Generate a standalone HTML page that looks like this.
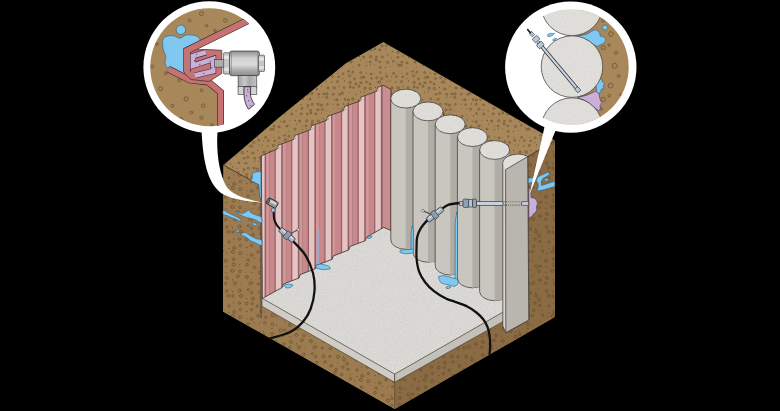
<!DOCTYPE html>
<html><head><meta charset="utf-8"><style>html,body{margin:0;padding:0;background:#000;}svg{display:block}</style></head>
<body><svg width="780" height="411" viewBox="0 0 780 411">
<defs><pattern id="soilpat" patternUnits="userSpaceOnUse" width="64" height="64"><circle cx="1.4" cy="3.4" r="0.55" fill="#5a4222" fill-opacity="0.85"/><circle cx="1.6" cy="9.1" r="0.55" fill="#5a4222" fill-opacity="0.85"/><circle cx="2.7" cy="12.3" r="1.0" fill="none" stroke="#5a4222" stroke-width="0.7" stroke-opacity="0.85"/><circle cx="3.0" cy="17.1" r="0.50" fill="#5a4222" fill-opacity="0.85"/><circle cx="1.7" cy="22.3" r="0.60" fill="#5a4222" fill-opacity="0.85"/><circle cx="4.1" cy="29.8" r="1.0" fill="none" stroke="#5a4222" stroke-width="0.7" stroke-opacity="0.85"/><circle cx="2.7" cy="33.2" r="0.52" fill="#5a4222" fill-opacity="0.85"/><circle cx="1.4" cy="41.2" r="1.2" fill="none" stroke="#5a4222" stroke-width="0.7" stroke-opacity="0.85"/><circle cx="65.4" cy="41.2" r="1.2" fill="none" stroke="#5a4222" stroke-width="0.7" stroke-opacity="0.85"/><circle cx="2.5" cy="45.5" r="1.0" fill="none" stroke="#5a4222" stroke-width="0.7" stroke-opacity="0.85"/><circle cx="66.5" cy="45.5" r="1.0" fill="none" stroke="#5a4222" stroke-width="0.7" stroke-opacity="0.85"/><circle cx="1.5" cy="48.9" r="0.50" fill="#5a4222" fill-opacity="0.85"/><circle cx="3.7" cy="54.9" r="0.63" fill="#5a4222" fill-opacity="0.85"/><circle cx="3.6" cy="-1.7" r="1.1" fill="none" stroke="#5a4222" stroke-width="0.7" stroke-opacity="0.85"/><circle cx="3.6" cy="62.3" r="1.1" fill="none" stroke="#5a4222" stroke-width="0.7" stroke-opacity="0.85"/><circle cx="6.6" cy="2.6" r="0.49" fill="#5a4222" fill-opacity="0.85"/><circle cx="9.6" cy="9.4" r="1.0" fill="none" stroke="#5a4222" stroke-width="0.7" stroke-opacity="0.85"/><circle cx="7.8" cy="12.9" r="0.53" fill="#5a4222" fill-opacity="0.85"/><circle cx="6.2" cy="17.1" r="0.65" fill="#5a4222" fill-opacity="0.85"/><circle cx="8.0" cy="24.0" r="1.1" fill="none" stroke="#5a4222" stroke-width="0.7" stroke-opacity="0.85"/><circle cx="7.0" cy="29.7" r="1.1" fill="none" stroke="#5a4222" stroke-width="0.7" stroke-opacity="0.85"/><circle cx="6.8" cy="33.4" r="1.2" fill="none" stroke="#5a4222" stroke-width="0.7" stroke-opacity="0.85"/><circle cx="7.4" cy="40.4" r="0.9" fill="none" stroke="#5a4222" stroke-width="0.7" stroke-opacity="0.85"/><circle cx="6.4" cy="46.5" r="0.52" fill="#5a4222" fill-opacity="0.85"/><circle cx="8.7" cy="51.3" r="0.64" fill="#5a4222" fill-opacity="0.85"/><circle cx="7.7" cy="57.8" r="0.57" fill="#5a4222" fill-opacity="0.85"/><circle cx="9.4" cy="61.3" r="0.9" fill="none" stroke="#5a4222" stroke-width="0.7" stroke-opacity="0.85"/><circle cx="14.7" cy="1.4" r="1.1" fill="none" stroke="#5a4222" stroke-width="0.7" stroke-opacity="0.85"/><circle cx="14.7" cy="65.4" r="1.1" fill="none" stroke="#5a4222" stroke-width="0.7" stroke-opacity="0.85"/><circle cx="14.4" cy="7.9" r="0.46" fill="#5a4222" fill-opacity="0.85"/><circle cx="12.4" cy="12.5" r="0.9" fill="none" stroke="#5a4222" stroke-width="0.7" stroke-opacity="0.85"/><circle cx="11.7" cy="18.1" r="0.65" fill="#5a4222" fill-opacity="0.85"/><circle cx="14.3" cy="23.9" r="1.2" fill="none" stroke="#5a4222" stroke-width="0.7" stroke-opacity="0.85"/><circle cx="13.4" cy="30.2" r="0.9" fill="none" stroke="#5a4222" stroke-width="0.7" stroke-opacity="0.85"/><circle cx="14.6" cy="35.8" r="0.57" fill="#5a4222" fill-opacity="0.85"/><circle cx="13.1" cy="40.3" r="0.51" fill="#5a4222" fill-opacity="0.85"/><circle cx="13.5" cy="44.5" r="0.45" fill="#5a4222" fill-opacity="0.85"/><circle cx="14.0" cy="52.4" r="1.1" fill="none" stroke="#5a4222" stroke-width="0.7" stroke-opacity="0.85"/><circle cx="13.9" cy="57.3" r="0.9" fill="none" stroke="#5a4222" stroke-width="0.7" stroke-opacity="0.85"/><circle cx="13.0" cy="63.0" r="0.48" fill="#5a4222" fill-opacity="0.85"/><circle cx="17.2" cy="1.2" r="1.0" fill="none" stroke="#5a4222" stroke-width="0.7" stroke-opacity="0.85"/><circle cx="17.2" cy="65.2" r="1.0" fill="none" stroke="#5a4222" stroke-width="0.7" stroke-opacity="0.85"/><circle cx="17.3" cy="9.4" r="0.48" fill="#5a4222" fill-opacity="0.85"/><circle cx="18.8" cy="12.7" r="0.9" fill="none" stroke="#5a4222" stroke-width="0.7" stroke-opacity="0.85"/><circle cx="17.4" cy="17.5" r="1.1" fill="none" stroke="#5a4222" stroke-width="0.7" stroke-opacity="0.85"/><circle cx="18.9" cy="22.3" r="0.62" fill="#5a4222" fill-opacity="0.85"/><circle cx="19.7" cy="30.4" r="1.0" fill="none" stroke="#5a4222" stroke-width="0.7" stroke-opacity="0.85"/><circle cx="17.0" cy="35.7" r="1.1" fill="none" stroke="#5a4222" stroke-width="0.7" stroke-opacity="0.85"/><circle cx="17.7" cy="40.7" r="0.9" fill="none" stroke="#5a4222" stroke-width="0.7" stroke-opacity="0.85"/><circle cx="18.3" cy="44.6" r="0.51" fill="#5a4222" fill-opacity="0.85"/><circle cx="18.7" cy="50.9" r="0.47" fill="#5a4222" fill-opacity="0.85"/><circle cx="19.0" cy="56.0" r="0.64" fill="#5a4222" fill-opacity="0.85"/><circle cx="18.0" cy="-1.9" r="1.0" fill="none" stroke="#5a4222" stroke-width="0.7" stroke-opacity="0.85"/><circle cx="18.0" cy="62.1" r="1.0" fill="none" stroke="#5a4222" stroke-width="0.7" stroke-opacity="0.85"/><circle cx="22.4" cy="3.8" r="0.52" fill="#5a4222" fill-opacity="0.85"/><circle cx="23.3" cy="9.8" r="0.9" fill="none" stroke="#5a4222" stroke-width="0.7" stroke-opacity="0.85"/><circle cx="22.4" cy="14.5" r="0.54" fill="#5a4222" fill-opacity="0.85"/><circle cx="24.5" cy="16.9" r="0.54" fill="#5a4222" fill-opacity="0.85"/><circle cx="24.1" cy="23.6" r="0.9" fill="none" stroke="#5a4222" stroke-width="0.7" stroke-opacity="0.85"/><circle cx="22.3" cy="29.1" r="1.1" fill="none" stroke="#5a4222" stroke-width="0.7" stroke-opacity="0.85"/><circle cx="25.2" cy="35.5" r="0.9" fill="none" stroke="#5a4222" stroke-width="0.7" stroke-opacity="0.85"/><circle cx="23.6" cy="40.0" r="0.64" fill="#5a4222" fill-opacity="0.85"/><circle cx="22.5" cy="45.3" r="1.1" fill="none" stroke="#5a4222" stroke-width="0.7" stroke-opacity="0.85"/><circle cx="25.5" cy="51.7" r="0.60" fill="#5a4222" fill-opacity="0.85"/><circle cx="24.6" cy="57.3" r="0.59" fill="#5a4222" fill-opacity="0.85"/><circle cx="23.0" cy="-1.1" r="1.1" fill="none" stroke="#5a4222" stroke-width="0.7" stroke-opacity="0.85"/><circle cx="23.0" cy="62.9" r="1.1" fill="none" stroke="#5a4222" stroke-width="0.7" stroke-opacity="0.85"/><circle cx="30.5" cy="4.4" r="0.45" fill="#5a4222" fill-opacity="0.85"/><circle cx="28.6" cy="7.3" r="0.9" fill="none" stroke="#5a4222" stroke-width="0.7" stroke-opacity="0.85"/><circle cx="29.5" cy="11.8" r="1.2" fill="none" stroke="#5a4222" stroke-width="0.7" stroke-opacity="0.85"/><circle cx="30.2" cy="18.5" r="1.2" fill="none" stroke="#5a4222" stroke-width="0.7" stroke-opacity="0.85"/><circle cx="30.1" cy="22.9" r="1.1" fill="none" stroke="#5a4222" stroke-width="0.7" stroke-opacity="0.85"/><circle cx="30.0" cy="28.4" r="0.51" fill="#5a4222" fill-opacity="0.85"/><circle cx="28.4" cy="36.0" r="1.1" fill="none" stroke="#5a4222" stroke-width="0.7" stroke-opacity="0.85"/><circle cx="28.2" cy="40.4" r="1.0" fill="none" stroke="#5a4222" stroke-width="0.7" stroke-opacity="0.85"/><circle cx="31.0" cy="45.2" r="1.1" fill="none" stroke="#5a4222" stroke-width="0.7" stroke-opacity="0.85"/><circle cx="28.5" cy="49.5" r="0.9" fill="none" stroke="#5a4222" stroke-width="0.7" stroke-opacity="0.85"/><circle cx="28.2" cy="57.7" r="1.1" fill="none" stroke="#5a4222" stroke-width="0.7" stroke-opacity="0.85"/><circle cx="31.0" cy="-1.9" r="1.0" fill="none" stroke="#5a4222" stroke-width="0.7" stroke-opacity="0.85"/><circle cx="31.0" cy="62.1" r="1.0" fill="none" stroke="#5a4222" stroke-width="0.7" stroke-opacity="0.85"/><circle cx="32.9" cy="3.1" r="0.50" fill="#5a4222" fill-opacity="0.85"/><circle cx="32.8" cy="8.2" r="1.0" fill="none" stroke="#5a4222" stroke-width="0.7" stroke-opacity="0.85"/><circle cx="34.5" cy="14.8" r="0.9" fill="none" stroke="#5a4222" stroke-width="0.7" stroke-opacity="0.85"/><circle cx="35.8" cy="19.9" r="0.9" fill="none" stroke="#5a4222" stroke-width="0.7" stroke-opacity="0.85"/><circle cx="33.5" cy="23.6" r="0.9" fill="none" stroke="#5a4222" stroke-width="0.7" stroke-opacity="0.85"/><circle cx="35.8" cy="30.6" r="0.63" fill="#5a4222" fill-opacity="0.85"/><circle cx="32.9" cy="35.0" r="1.2" fill="none" stroke="#5a4222" stroke-width="0.7" stroke-opacity="0.85"/><circle cx="35.6" cy="41.0" r="0.9" fill="none" stroke="#5a4222" stroke-width="0.7" stroke-opacity="0.85"/><circle cx="35.8" cy="45.7" r="0.54" fill="#5a4222" fill-opacity="0.85"/><circle cx="35.8" cy="50.1" r="1.0" fill="none" stroke="#5a4222" stroke-width="0.7" stroke-opacity="0.85"/><circle cx="33.9" cy="56.5" r="0.46" fill="#5a4222" fill-opacity="0.85"/><circle cx="33.1" cy="61.4" r="0.49" fill="#5a4222" fill-opacity="0.85"/><circle cx="39.1" cy="1.0" r="1.0" fill="none" stroke="#5a4222" stroke-width="0.7" stroke-opacity="0.85"/><circle cx="39.1" cy="65.0" r="1.0" fill="none" stroke="#5a4222" stroke-width="0.7" stroke-opacity="0.85"/><circle cx="40.7" cy="8.6" r="0.9" fill="none" stroke="#5a4222" stroke-width="0.7" stroke-opacity="0.85"/><circle cx="41.6" cy="13.5" r="1.1" fill="none" stroke="#5a4222" stroke-width="0.7" stroke-opacity="0.85"/><circle cx="40.9" cy="18.8" r="1.1" fill="none" stroke="#5a4222" stroke-width="0.7" stroke-opacity="0.85"/><circle cx="38.9" cy="22.3" r="1.0" fill="none" stroke="#5a4222" stroke-width="0.7" stroke-opacity="0.85"/><circle cx="40.5" cy="28.1" r="0.55" fill="#5a4222" fill-opacity="0.85"/><circle cx="38.7" cy="36.0" r="0.63" fill="#5a4222" fill-opacity="0.85"/><circle cx="40.7" cy="38.9" r="0.63" fill="#5a4222" fill-opacity="0.85"/><circle cx="40.1" cy="46.9" r="0.53" fill="#5a4222" fill-opacity="0.85"/><circle cx="41.6" cy="52.3" r="0.45" fill="#5a4222" fill-opacity="0.85"/><circle cx="39.4" cy="56.4" r="0.60" fill="#5a4222" fill-opacity="0.85"/><circle cx="40.5" cy="60.1" r="0.56" fill="#5a4222" fill-opacity="0.85"/><circle cx="46.8" cy="1.6" r="0.56" fill="#5a4222" fill-opacity="0.85"/><circle cx="46.4" cy="8.9" r="0.52" fill="#5a4222" fill-opacity="0.85"/><circle cx="43.8" cy="13.0" r="1.0" fill="none" stroke="#5a4222" stroke-width="0.7" stroke-opacity="0.85"/><circle cx="46.5" cy="18.2" r="0.9" fill="none" stroke="#5a4222" stroke-width="0.7" stroke-opacity="0.85"/><circle cx="45.0" cy="24.3" r="1.1" fill="none" stroke="#5a4222" stroke-width="0.7" stroke-opacity="0.85"/><circle cx="44.3" cy="27.9" r="0.55" fill="#5a4222" fill-opacity="0.85"/><circle cx="46.8" cy="34.7" r="0.9" fill="none" stroke="#5a4222" stroke-width="0.7" stroke-opacity="0.85"/><circle cx="45.1" cy="40.5" r="0.60" fill="#5a4222" fill-opacity="0.85"/><circle cx="45.9" cy="44.4" r="1.0" fill="none" stroke="#5a4222" stroke-width="0.7" stroke-opacity="0.85"/><circle cx="45.3" cy="49.8" r="1.0" fill="none" stroke="#5a4222" stroke-width="0.7" stroke-opacity="0.85"/><circle cx="43.6" cy="57.2" r="1.1" fill="none" stroke="#5a4222" stroke-width="0.7" stroke-opacity="0.85"/><circle cx="46.2" cy="62.2" r="0.53" fill="#5a4222" fill-opacity="0.85"/><circle cx="50.3" cy="0.8" r="0.57" fill="#5a4222" fill-opacity="0.85"/><circle cx="51.0" cy="9.9" r="0.9" fill="none" stroke="#5a4222" stroke-width="0.7" stroke-opacity="0.85"/><circle cx="51.5" cy="14.5" r="0.9" fill="none" stroke="#5a4222" stroke-width="0.7" stroke-opacity="0.85"/><circle cx="50.2" cy="19.9" r="1.0" fill="none" stroke="#5a4222" stroke-width="0.7" stroke-opacity="0.85"/><circle cx="50.3" cy="24.5" r="1.1" fill="none" stroke="#5a4222" stroke-width="0.7" stroke-opacity="0.85"/><circle cx="52.0" cy="30.3" r="0.9" fill="none" stroke="#5a4222" stroke-width="0.7" stroke-opacity="0.85"/><circle cx="51.7" cy="35.8" r="0.49" fill="#5a4222" fill-opacity="0.85"/><circle cx="52.0" cy="41.5" r="1.0" fill="none" stroke="#5a4222" stroke-width="0.7" stroke-opacity="0.85"/><circle cx="51.2" cy="44.0" r="0.50" fill="#5a4222" fill-opacity="0.85"/><circle cx="51.3" cy="49.9" r="0.9" fill="none" stroke="#5a4222" stroke-width="0.7" stroke-opacity="0.85"/><circle cx="50.7" cy="56.8" r="1.1" fill="none" stroke="#5a4222" stroke-width="0.7" stroke-opacity="0.85"/><circle cx="50.1" cy="-2.1" r="0.9" fill="none" stroke="#5a4222" stroke-width="0.7" stroke-opacity="0.85"/><circle cx="50.1" cy="61.9" r="0.9" fill="none" stroke="#5a4222" stroke-width="0.7" stroke-opacity="0.85"/><circle cx="54.7" cy="1.0" r="0.53" fill="#5a4222" fill-opacity="0.85"/><circle cx="54.6" cy="9.4" r="0.45" fill="#5a4222" fill-opacity="0.85"/><circle cx="56.8" cy="13.7" r="1.0" fill="none" stroke="#5a4222" stroke-width="0.7" stroke-opacity="0.85"/><circle cx="57.7" cy="18.2" r="0.58" fill="#5a4222" fill-opacity="0.85"/><circle cx="55.5" cy="23.4" r="0.58" fill="#5a4222" fill-opacity="0.85"/><circle cx="55.8" cy="29.4" r="1.1" fill="none" stroke="#5a4222" stroke-width="0.7" stroke-opacity="0.85"/><circle cx="54.2" cy="35.2" r="0.9" fill="none" stroke="#5a4222" stroke-width="0.7" stroke-opacity="0.85"/><circle cx="56.3" cy="40.3" r="1.0" fill="none" stroke="#5a4222" stroke-width="0.7" stroke-opacity="0.85"/><circle cx="54.7" cy="46.4" r="1.0" fill="none" stroke="#5a4222" stroke-width="0.7" stroke-opacity="0.85"/><circle cx="54.9" cy="49.0" r="0.9" fill="none" stroke="#5a4222" stroke-width="0.7" stroke-opacity="0.85"/><circle cx="56.5" cy="57.3" r="0.9" fill="none" stroke="#5a4222" stroke-width="0.7" stroke-opacity="0.85"/><circle cx="56.1" cy="59.9" r="1.1" fill="none" stroke="#5a4222" stroke-width="0.7" stroke-opacity="0.85"/><circle cx="60.2" cy="3.4" r="0.9" fill="none" stroke="#5a4222" stroke-width="0.7" stroke-opacity="0.85"/><circle cx="60.4" cy="8.4" r="0.9" fill="none" stroke="#5a4222" stroke-width="0.7" stroke-opacity="0.85"/><circle cx="-2.4" cy="14.5" r="1.1" fill="none" stroke="#5a4222" stroke-width="0.7" stroke-opacity="0.85"/><circle cx="61.6" cy="14.5" r="1.1" fill="none" stroke="#5a4222" stroke-width="0.7" stroke-opacity="0.85"/><circle cx="59.5" cy="17.9" r="1.2" fill="none" stroke="#5a4222" stroke-width="0.7" stroke-opacity="0.85"/><circle cx="60.8" cy="25.1" r="1.0" fill="none" stroke="#5a4222" stroke-width="0.7" stroke-opacity="0.85"/><circle cx="-1.2" cy="30.3" r="0.9" fill="none" stroke="#5a4222" stroke-width="0.7" stroke-opacity="0.85"/><circle cx="62.8" cy="30.3" r="0.9" fill="none" stroke="#5a4222" stroke-width="0.7" stroke-opacity="0.85"/><circle cx="62.9" cy="33.1" r="0.61" fill="#5a4222" fill-opacity="0.85"/><circle cx="-1.8" cy="40.1" r="1.0" fill="none" stroke="#5a4222" stroke-width="0.7" stroke-opacity="0.85"/><circle cx="62.2" cy="40.1" r="1.0" fill="none" stroke="#5a4222" stroke-width="0.7" stroke-opacity="0.85"/><circle cx="-2.1" cy="45.9" r="1.1" fill="none" stroke="#5a4222" stroke-width="0.7" stroke-opacity="0.85"/><circle cx="61.9" cy="45.9" r="1.1" fill="none" stroke="#5a4222" stroke-width="0.7" stroke-opacity="0.85"/><circle cx="59.7" cy="49.9" r="1.0" fill="none" stroke="#5a4222" stroke-width="0.7" stroke-opacity="0.85"/><circle cx="-1.6" cy="56.9" r="1.0" fill="none" stroke="#5a4222" stroke-width="0.7" stroke-opacity="0.85"/><circle cx="62.4" cy="56.9" r="1.0" fill="none" stroke="#5a4222" stroke-width="0.7" stroke-opacity="0.85"/><circle cx="59.9" cy="-2.1" r="0.9" fill="none" stroke="#5a4222" stroke-width="0.7" stroke-opacity="0.85"/><circle cx="59.9" cy="61.9" r="0.9" fill="none" stroke="#5a4222" stroke-width="0.7" stroke-opacity="0.85"/></pattern><pattern id="soilside" patternUnits="userSpaceOnUse" width="64" height="64"><circle cx="3.5" cy="3.8" r="0.51" fill="#5a4222" fill-opacity="0.85"/><circle cx="3.9" cy="11.4" r="0.49" fill="#5a4222" fill-opacity="0.85"/><circle cx="3.9" cy="16.5" r="1.5" fill="none" stroke="#5a4222" stroke-width="0.7" stroke-opacity="0.85"/><circle cx="3.3" cy="22.2" r="0.58" fill="#5a4222" fill-opacity="0.85"/><circle cx="2.3" cy="27.9" r="1.1" fill="none" stroke="#5a4222" stroke-width="0.7" stroke-opacity="0.85"/><circle cx="66.3" cy="27.9" r="1.1" fill="none" stroke="#5a4222" stroke-width="0.7" stroke-opacity="0.85"/><circle cx="3.7" cy="36.3" r="1.5" fill="none" stroke="#5a4222" stroke-width="0.7" stroke-opacity="0.85"/><circle cx="5.1" cy="41.8" r="1.2" fill="none" stroke="#5a4222" stroke-width="0.7" stroke-opacity="0.85"/><circle cx="1.2" cy="50.2" r="1.2" fill="none" stroke="#5a4222" stroke-width="0.7" stroke-opacity="0.85"/><circle cx="65.2" cy="50.2" r="1.2" fill="none" stroke="#5a4222" stroke-width="0.7" stroke-opacity="0.85"/><circle cx="5.0" cy="55.5" r="1.2" fill="none" stroke="#5a4222" stroke-width="0.7" stroke-opacity="0.85"/><circle cx="2.0" cy="59.8" r="1.3" fill="none" stroke="#5a4222" stroke-width="0.7" stroke-opacity="0.85"/><circle cx="66.0" cy="59.8" r="1.3" fill="none" stroke="#5a4222" stroke-width="0.7" stroke-opacity="0.85"/><circle cx="8.7" cy="2.7" r="1.1" fill="none" stroke="#5a4222" stroke-width="0.7" stroke-opacity="0.85"/><circle cx="7.5" cy="11.3" r="0.56" fill="#5a4222" fill-opacity="0.85"/><circle cx="7.9" cy="14.4" r="1.2" fill="none" stroke="#5a4222" stroke-width="0.7" stroke-opacity="0.85"/><circle cx="7.6" cy="21.4" r="1.2" fill="none" stroke="#5a4222" stroke-width="0.7" stroke-opacity="0.85"/><circle cx="10.3" cy="28.6" r="1.3" fill="none" stroke="#5a4222" stroke-width="0.7" stroke-opacity="0.85"/><circle cx="9.8" cy="36.5" r="1.1" fill="none" stroke="#5a4222" stroke-width="0.7" stroke-opacity="0.85"/><circle cx="9.5" cy="41.1" r="0.47" fill="#5a4222" fill-opacity="0.85"/><circle cx="11.3" cy="45.8" r="1.3" fill="none" stroke="#5a4222" stroke-width="0.7" stroke-opacity="0.85"/><circle cx="8.8" cy="56.1" r="0.48" fill="#5a4222" fill-opacity="0.85"/><circle cx="9.6" cy="61.3" r="1.1" fill="none" stroke="#5a4222" stroke-width="0.7" stroke-opacity="0.85"/><circle cx="16.5" cy="4.2" r="1.3" fill="none" stroke="#5a4222" stroke-width="0.7" stroke-opacity="0.85"/><circle cx="16.0" cy="8.5" r="0.64" fill="#5a4222" fill-opacity="0.85"/><circle cx="15.9" cy="13.9" r="1.5" fill="none" stroke="#5a4222" stroke-width="0.7" stroke-opacity="0.85"/><circle cx="15.2" cy="20.6" r="1.4" fill="none" stroke="#5a4222" stroke-width="0.7" stroke-opacity="0.85"/><circle cx="16.5" cy="27.8" r="1.4" fill="none" stroke="#5a4222" stroke-width="0.7" stroke-opacity="0.85"/><circle cx="18.1" cy="36.7" r="1.5" fill="none" stroke="#5a4222" stroke-width="0.7" stroke-opacity="0.85"/><circle cx="17.9" cy="43.3" r="0.57" fill="#5a4222" fill-opacity="0.85"/><circle cx="16.1" cy="49.6" r="1.4" fill="none" stroke="#5a4222" stroke-width="0.7" stroke-opacity="0.85"/><circle cx="14.8" cy="52.6" r="1.4" fill="none" stroke="#5a4222" stroke-width="0.7" stroke-opacity="0.85"/><circle cx="16.3" cy="59.4" r="1.5" fill="none" stroke="#5a4222" stroke-width="0.7" stroke-opacity="0.85"/><circle cx="20.5" cy="5.1" r="0.56" fill="#5a4222" fill-opacity="0.85"/><circle cx="24.6" cy="10.4" r="1.5" fill="none" stroke="#5a4222" stroke-width="0.7" stroke-opacity="0.85"/><circle cx="22.0" cy="17.9" r="0.48" fill="#5a4222" fill-opacity="0.85"/><circle cx="20.3" cy="20.3" r="0.61" fill="#5a4222" fill-opacity="0.85"/><circle cx="21.2" cy="27.1" r="1.5" fill="none" stroke="#5a4222" stroke-width="0.7" stroke-opacity="0.85"/><circle cx="23.5" cy="36.8" r="0.60" fill="#5a4222" fill-opacity="0.85"/><circle cx="23.9" cy="39.4" r="1.5" fill="none" stroke="#5a4222" stroke-width="0.7" stroke-opacity="0.85"/><circle cx="22.9" cy="47.2" r="1.2" fill="none" stroke="#5a4222" stroke-width="0.7" stroke-opacity="0.85"/><circle cx="21.7" cy="54.4" r="1.2" fill="none" stroke="#5a4222" stroke-width="0.7" stroke-opacity="0.85"/><circle cx="20.5" cy="59.5" r="1.1" fill="none" stroke="#5a4222" stroke-width="0.7" stroke-opacity="0.85"/><circle cx="28.4" cy="1.5" r="0.56" fill="#5a4222" fill-opacity="0.85"/><circle cx="28.6" cy="10.2" r="1.1" fill="none" stroke="#5a4222" stroke-width="0.7" stroke-opacity="0.85"/><circle cx="26.9" cy="15.3" r="1.2" fill="none" stroke="#5a4222" stroke-width="0.7" stroke-opacity="0.85"/><circle cx="27.9" cy="23.9" r="1.3" fill="none" stroke="#5a4222" stroke-width="0.7" stroke-opacity="0.85"/><circle cx="28.3" cy="27.8" r="0.49" fill="#5a4222" fill-opacity="0.85"/><circle cx="26.7" cy="33.7" r="0.52" fill="#5a4222" fill-opacity="0.85"/><circle cx="27.1" cy="43.7" r="1.5" fill="none" stroke="#5a4222" stroke-width="0.7" stroke-opacity="0.85"/><circle cx="28.0" cy="49.4" r="1.2" fill="none" stroke="#5a4222" stroke-width="0.7" stroke-opacity="0.85"/><circle cx="30.1" cy="54.5" r="0.53" fill="#5a4222" fill-opacity="0.85"/><circle cx="30.5" cy="58.9" r="1.2" fill="none" stroke="#5a4222" stroke-width="0.7" stroke-opacity="0.85"/><circle cx="33.9" cy="4.9" r="1.5" fill="none" stroke="#5a4222" stroke-width="0.7" stroke-opacity="0.85"/><circle cx="34.2" cy="10.6" r="0.58" fill="#5a4222" fill-opacity="0.85"/><circle cx="34.0" cy="16.8" r="0.61" fill="#5a4222" fill-opacity="0.85"/><circle cx="34.9" cy="21.9" r="1.4" fill="none" stroke="#5a4222" stroke-width="0.7" stroke-opacity="0.85"/><circle cx="33.7" cy="27.5" r="1.2" fill="none" stroke="#5a4222" stroke-width="0.7" stroke-opacity="0.85"/><circle cx="34.7" cy="35.1" r="1.3" fill="none" stroke="#5a4222" stroke-width="0.7" stroke-opacity="0.85"/><circle cx="36.4" cy="39.8" r="1.3" fill="none" stroke="#5a4222" stroke-width="0.7" stroke-opacity="0.85"/><circle cx="37.0" cy="49.9" r="1.1" fill="none" stroke="#5a4222" stroke-width="0.7" stroke-opacity="0.85"/><circle cx="36.9" cy="56.6" r="0.56" fill="#5a4222" fill-opacity="0.85"/><circle cx="34.7" cy="61.2" r="0.65" fill="#5a4222" fill-opacity="0.85"/><circle cx="41.6" cy="3.2" r="1.3" fill="none" stroke="#5a4222" stroke-width="0.7" stroke-opacity="0.85"/><circle cx="41.8" cy="8.6" r="1.5" fill="none" stroke="#5a4222" stroke-width="0.7" stroke-opacity="0.85"/><circle cx="40.4" cy="14.9" r="1.5" fill="none" stroke="#5a4222" stroke-width="0.7" stroke-opacity="0.85"/><circle cx="40.7" cy="23.9" r="0.63" fill="#5a4222" fill-opacity="0.85"/><circle cx="43.0" cy="27.4" r="1.5" fill="none" stroke="#5a4222" stroke-width="0.7" stroke-opacity="0.85"/><circle cx="40.5" cy="35.7" r="0.64" fill="#5a4222" fill-opacity="0.85"/><circle cx="40.9" cy="39.9" r="1.2" fill="none" stroke="#5a4222" stroke-width="0.7" stroke-opacity="0.85"/><circle cx="41.8" cy="47.0" r="0.58" fill="#5a4222" fill-opacity="0.85"/><circle cx="42.1" cy="55.9" r="1.4" fill="none" stroke="#5a4222" stroke-width="0.7" stroke-opacity="0.85"/><circle cx="40.9" cy="59.9" r="1.5" fill="none" stroke="#5a4222" stroke-width="0.7" stroke-opacity="0.85"/><circle cx="49.8" cy="1.1" r="0.46" fill="#5a4222" fill-opacity="0.85"/><circle cx="47.6" cy="8.8" r="0.54" fill="#5a4222" fill-opacity="0.85"/><circle cx="48.0" cy="15.4" r="1.2" fill="none" stroke="#5a4222" stroke-width="0.7" stroke-opacity="0.85"/><circle cx="46.0" cy="20.2" r="1.4" fill="none" stroke="#5a4222" stroke-width="0.7" stroke-opacity="0.85"/><circle cx="48.8" cy="27.7" r="0.47" fill="#5a4222" fill-opacity="0.85"/><circle cx="47.7" cy="34.5" r="1.5" fill="none" stroke="#5a4222" stroke-width="0.7" stroke-opacity="0.85"/><circle cx="49.0" cy="39.9" r="1.5" fill="none" stroke="#5a4222" stroke-width="0.7" stroke-opacity="0.85"/><circle cx="47.4" cy="47.1" r="1.2" fill="none" stroke="#5a4222" stroke-width="0.7" stroke-opacity="0.85"/><circle cx="48.4" cy="53.6" r="1.1" fill="none" stroke="#5a4222" stroke-width="0.7" stroke-opacity="0.85"/><circle cx="48.2" cy="61.2" r="1.5" fill="none" stroke="#5a4222" stroke-width="0.7" stroke-opacity="0.85"/><circle cx="56.3" cy="3.9" r="1.2" fill="none" stroke="#5a4222" stroke-width="0.7" stroke-opacity="0.85"/><circle cx="55.0" cy="8.7" r="1.3" fill="none" stroke="#5a4222" stroke-width="0.7" stroke-opacity="0.85"/><circle cx="53.1" cy="16.6" r="0.45" fill="#5a4222" fill-opacity="0.85"/><circle cx="55.0" cy="21.0" r="1.4" fill="none" stroke="#5a4222" stroke-width="0.7" stroke-opacity="0.85"/><circle cx="56.5" cy="28.0" r="0.52" fill="#5a4222" fill-opacity="0.85"/><circle cx="56.4" cy="33.7" r="1.1" fill="none" stroke="#5a4222" stroke-width="0.7" stroke-opacity="0.85"/><circle cx="54.7" cy="42.7" r="0.60" fill="#5a4222" fill-opacity="0.85"/><circle cx="54.6" cy="47.6" r="1.4" fill="none" stroke="#5a4222" stroke-width="0.7" stroke-opacity="0.85"/><circle cx="54.9" cy="55.4" r="0.64" fill="#5a4222" fill-opacity="0.85"/><circle cx="54.9" cy="62.5" r="0.53" fill="#5a4222" fill-opacity="0.85"/><circle cx="62.2" cy="2.6" r="0.63" fill="#5a4222" fill-opacity="0.85"/><circle cx="-1.4" cy="11.4" r="1.3" fill="none" stroke="#5a4222" stroke-width="0.7" stroke-opacity="0.85"/><circle cx="62.6" cy="11.4" r="1.3" fill="none" stroke="#5a4222" stroke-width="0.7" stroke-opacity="0.85"/><circle cx="59.9" cy="16.6" r="0.52" fill="#5a4222" fill-opacity="0.85"/><circle cx="59.5" cy="23.6" r="0.49" fill="#5a4222" fill-opacity="0.85"/><circle cx="59.2" cy="27.1" r="1.5" fill="none" stroke="#5a4222" stroke-width="0.7" stroke-opacity="0.85"/><circle cx="59.7" cy="36.5" r="1.2" fill="none" stroke="#5a4222" stroke-width="0.7" stroke-opacity="0.85"/><circle cx="61.0" cy="42.8" r="1.4" fill="none" stroke="#5a4222" stroke-width="0.7" stroke-opacity="0.85"/><circle cx="60.2" cy="47.5" r="1.1" fill="none" stroke="#5a4222" stroke-width="0.7" stroke-opacity="0.85"/><circle cx="59.5" cy="53.7" r="1.2" fill="none" stroke="#5a4222" stroke-width="0.7" stroke-opacity="0.85"/><circle cx="59.7" cy="-1.0" r="1.3" fill="none" stroke="#5a4222" stroke-width="0.7" stroke-opacity="0.85"/><circle cx="59.7" cy="63.0" r="1.3" fill="none" stroke="#5a4222" stroke-width="0.7" stroke-opacity="0.85"/></pattern><filter id="grain" x="0" y="0" width="100%" height="100%"><feTurbulence type="fractalNoise" baseFrequency="0.75" numOctaves="2" seed="4" result="n"/><feColorMatrix in="n" type="matrix" values="0 0 0 0 0  0 0 0 0 0  0 0 0 0 0  1.2 0 0 0 -0.45"/><feComposite in2="SourceGraphic" operator="in"/></filter><clipPath id="cBlock"><polygon points="383.3,42.0 554.8,140.6 554.8,317.0 394.7,409.0 223.0,311.5 223.5,165.0 279.0,117.5 345.6,63.6"/></clipPath><clipPath id="cL"><circle cx="209.3" cy="67.2" r="59"/></clipPath><clipPath id="cR"><circle cx="570.8" cy="67.1" r="57.9"/></clipPath><clipPath id="cTop"><polygon points="383.3,42.0 554.8,140.6 527.7,156.6 261.0,186.0 223.5,165.0 279.0,117.5 345.6,63.6"/></clipPath><clipPath id="cWall"><polygon points="261.2,155.9 277.1,149.1 278.3,144.8 280.1,144.5 292.8,139.8 293.7,139.4 294.9,135.1 296.7,134.8 309.4,130.1 310.3,129.8 311.5,125.5 313.3,125.2 326.0,120.5 326.9,120.2 328.1,115.9 329.9,115.6 342.6,110.9 343.5,110.5 344.7,106.2 346.5,105.9 359.2,101.2 360.1,100.9 361.3,96.6 363.1,96.3 375.8,91.6 376.7,91.3 377.9,87.0 379.7,86.7 383.0,85.1 391.0,89.4 391.0,230.5 383.6,227.4 366.4,237.3 365.4,240.6 349.8,246.6 348.8,249.9 333.2,256.0 332.2,259.3 316.6,265.3 315.6,268.6 300.0,274.7 299.0,278.0 283.4,284.0 282.4,287.3 262.4,298.5"/></clipPath><linearGradient id="gBody" x1="0" y1="0" x2="0" y2="1"><stop offset="0" stop-color="#8e8e8e"/><stop offset="0.3" stop-color="#d2d2d2"/><stop offset="0.55" stop-color="#dadada"/><stop offset="0.8" stop-color="#a9a9a9"/><stop offset="1" stop-color="#8a8a8a"/></linearGradient><linearGradient id="gLow" x1="0" y1="0" x2="1" y2="0"><stop offset="0" stop-color="#a0a0a0"/><stop offset="0.35" stop-color="#c8c8c8"/><stop offset="0.6" stop-color="#a8a8a8"/><stop offset="1" stop-color="#c4c4c4"/></linearGradient></defs>
<rect width="780" height="411" fill="#000"/>
<polygon points="383.3,42.0 554.8,140.6 554.8,317.0 394.7,409.0 223.0,311.5 223.5,165.0 279.0,117.5 345.6,63.6" fill="#a8885b"/><polygon points="223.5,165.0 261.0,186.0 261.0,306.3 394.7,382.3 394.7,409.0 223.0,311.5" fill="#9b7b4f"/><polygon points="554.8,140.6 527.7,156.6 528.8,320.0 505.8,332.8 505.8,320.0 394.7,382.3 394.7,409.0 554.8,317.0" fill="#8a6b43"/><polyline points="223.5,165.0 261.0,186.0" fill="none" stroke="#3a302c" stroke-width="0.8"/><polyline points="554.8,140.6 527.7,156.6" fill="none" stroke="#3a302c" stroke-width="0.8"/><polyline points="394.7,382.3 394.7,409.0" fill="none" stroke="#4a3a28" stroke-width="0.6"/><rect x="215" y="35" width="345" height="380" fill="url(#soilpat)" clip-path="url(#cTop)"/><polygon points="223.5,165.0 261.0,186.0 261.0,306.3 394.7,382.3 394.7,409.0 223.0,311.5" fill="url(#soilside)"/><polygon points="554.8,140.6 527.7,156.6 528.8,320.0 505.8,332.8 505.8,320.0 394.7,382.3 394.7,409.0 554.8,317.0" fill="url(#soilside)"/><polygon points="262.0,298.2 262.0,290.0 390.0,222.0 502.4,290.0 504.0,311.5 394.7,374.1" fill="#dcdbd7"/><polygon points="262.0,298.2 262.0,290.0 390.0,222.0 502.4,290.0 504.0,311.5 394.7,374.1" fill="#000" filter="url(#grain)" opacity="0.10"/><polygon points="262.0,298.2 394.7,374.1 394.7,382.3 262.0,306.3" fill="#cfcdc6" stroke="#3a302c" stroke-width="0.6"/><polygon points="394.7,374.1 504.0,311.5 505.8,320.0 394.7,382.3" fill="#c3c1ba" stroke="#3a302c" stroke-width="0.6"/><g clip-path="url(#cWall)"><rect x="261.6" y="70" width="128.79999999999995" height="240" fill="#cd8e91"/><rect x="242.70" y="70" width="5.4" height="240" fill="#e7c4c4"/><rect x="248.10" y="70" width="1.6" height="240" fill="#8e6468"/><rect x="249.70" y="70" width="3.0" height="240" fill="#d3979a"/><rect x="252.70" y="70" width="0.6" height="240" fill="#a07478"/><rect x="253.30" y="70" width="4.6" height="240" fill="#c8888c"/><rect x="257.90" y="70" width="1.25" height="240" fill="#8e6468"/><rect x="259.30" y="70" width="5.4" height="240" fill="#e7c4c4"/><rect x="264.70" y="70" width="1.6" height="240" fill="#8e6468"/><rect x="266.30" y="70" width="3.0" height="240" fill="#d3979a"/><rect x="269.30" y="70" width="0.6" height="240" fill="#a07478"/><rect x="269.90" y="70" width="4.6" height="240" fill="#c8888c"/><rect x="274.50" y="70" width="1.25" height="240" fill="#8e6468"/><rect x="275.90" y="70" width="5.4" height="240" fill="#e7c4c4"/><rect x="281.30" y="70" width="1.6" height="240" fill="#8e6468"/><rect x="282.90" y="70" width="3.0" height="240" fill="#d3979a"/><rect x="285.90" y="70" width="0.6" height="240" fill="#a07478"/><rect x="286.50" y="70" width="4.6" height="240" fill="#c8888c"/><rect x="291.10" y="70" width="1.25" height="240" fill="#8e6468"/><rect x="292.50" y="70" width="5.4" height="240" fill="#e7c4c4"/><rect x="297.90" y="70" width="1.6" height="240" fill="#8e6468"/><rect x="299.50" y="70" width="3.0" height="240" fill="#d3979a"/><rect x="302.50" y="70" width="0.6" height="240" fill="#a07478"/><rect x="303.10" y="70" width="4.6" height="240" fill="#c8888c"/><rect x="307.70" y="70" width="1.25" height="240" fill="#8e6468"/><rect x="309.10" y="70" width="5.4" height="240" fill="#e7c4c4"/><rect x="314.50" y="70" width="1.6" height="240" fill="#8e6468"/><rect x="316.10" y="70" width="3.0" height="240" fill="#d3979a"/><rect x="319.10" y="70" width="0.6" height="240" fill="#a07478"/><rect x="319.70" y="70" width="4.6" height="240" fill="#c8888c"/><rect x="324.30" y="70" width="1.25" height="240" fill="#8e6468"/><rect x="325.70" y="70" width="5.4" height="240" fill="#e7c4c4"/><rect x="331.10" y="70" width="1.6" height="240" fill="#8e6468"/><rect x="332.70" y="70" width="3.0" height="240" fill="#d3979a"/><rect x="335.70" y="70" width="0.6" height="240" fill="#a07478"/><rect x="336.30" y="70" width="4.6" height="240" fill="#c8888c"/><rect x="340.90" y="70" width="1.25" height="240" fill="#8e6468"/><rect x="342.30" y="70" width="5.4" height="240" fill="#e7c4c4"/><rect x="347.70" y="70" width="1.6" height="240" fill="#8e6468"/><rect x="349.30" y="70" width="3.0" height="240" fill="#d3979a"/><rect x="352.30" y="70" width="0.6" height="240" fill="#a07478"/><rect x="352.90" y="70" width="4.6" height="240" fill="#c8888c"/><rect x="357.50" y="70" width="1.25" height="240" fill="#8e6468"/><rect x="358.90" y="70" width="5.4" height="240" fill="#e7c4c4"/><rect x="364.30" y="70" width="1.6" height="240" fill="#8e6468"/><rect x="365.90" y="70" width="3.0" height="240" fill="#d3979a"/><rect x="368.90" y="70" width="0.6" height="240" fill="#a07478"/><rect x="369.50" y="70" width="4.6" height="240" fill="#c8888c"/><rect x="374.10" y="70" width="1.25" height="240" fill="#8e6468"/><rect x="375.50" y="70" width="5.4" height="240" fill="#e7c4c4"/><rect x="380.90" y="70" width="1.6" height="240" fill="#8e6468"/><rect x="382.50" y="70" width="3.0" height="240" fill="#d3979a"/><rect x="385.50" y="70" width="0.6" height="240" fill="#a07478"/><rect x="386.10" y="70" width="4.6" height="240" fill="#c8888c"/><rect x="390.70" y="70" width="1.25" height="240" fill="#8e6468"/><rect x="392.10" y="70" width="5.4" height="240" fill="#e7c4c4"/><rect x="397.50" y="70" width="1.6" height="240" fill="#8e6468"/><rect x="399.10" y="70" width="3.0" height="240" fill="#d3979a"/><rect x="402.10" y="70" width="0.6" height="240" fill="#a07478"/><rect x="402.70" y="70" width="4.6" height="240" fill="#c8888c"/><rect x="407.30" y="70" width="1.25" height="240" fill="#8e6468"/><rect x="408.70" y="70" width="5.4" height="240" fill="#e7c4c4"/><rect x="414.10" y="70" width="1.6" height="240" fill="#8e6468"/><rect x="415.70" y="70" width="3.0" height="240" fill="#d3979a"/><rect x="418.70" y="70" width="0.6" height="240" fill="#a07478"/><rect x="419.30" y="70" width="4.6" height="240" fill="#c8888c"/><rect x="423.90" y="70" width="1.25" height="240" fill="#8e6468"/><rect x="382.4" y="70" width="8.4" height="240" fill="#c98c90"/><rect x="381.6" y="70" width="0.9" height="240" fill="#7e5c5e"/></g><polygon points="261.2,155.9 277.1,149.1 278.3,144.8 280.1,144.5 292.8,139.8 293.7,139.4 294.9,135.1 296.7,134.8 309.4,130.1 310.3,129.8 311.5,125.5 313.3,125.2 326.0,120.5 326.9,120.2 328.1,115.9 329.9,115.6 342.6,110.9 343.5,110.5 344.7,106.2 346.5,105.9 359.2,101.2 360.1,100.9 361.3,96.6 363.1,96.3 375.8,91.6 376.7,91.3 377.9,87.0 379.7,86.7 383.0,85.1 391.0,89.4 391.0,230.5 383.6,227.4 366.4,237.3 365.4,240.6 349.8,246.6 348.8,249.9 333.2,256.0 332.2,259.3 316.6,265.3 315.6,268.6 300.0,274.7 299.0,278.0 283.4,284.0 282.4,287.3 262.4,298.5" fill="none" stroke="#3a302c" stroke-width="0.8" stroke-linejoin="round"/><circle cx="278.1" cy="147.6" r="0.9" fill="#eee" stroke="#444" stroke-width="0.4"/><circle cx="294.7" cy="137.9" r="0.9" fill="#eee" stroke="#444" stroke-width="0.4"/><circle cx="311.3" cy="128.3" r="0.9" fill="#eee" stroke="#444" stroke-width="0.4"/><circle cx="327.9" cy="118.7" r="0.9" fill="#eee" stroke="#444" stroke-width="0.4"/><circle cx="344.5" cy="109.0" r="0.9" fill="#eee" stroke="#444" stroke-width="0.4"/><circle cx="361.1" cy="99.4" r="0.9" fill="#eee" stroke="#444" stroke-width="0.4"/><circle cx="377.7" cy="89.8" r="0.9" fill="#eee" stroke="#444" stroke-width="0.4"/><line x1="261" y1="156" x2="261" y2="318" stroke="#5e4c46" stroke-width="1.3"/><path d="M390.8,98.6 L390.8,239.9 A15,9.4 0 0 0 420.8,239.9 L420.8,98.6 Z" fill="#c9c6bf" stroke="#3a302c" stroke-width="0.7"/><path d="M405.8,98.6 L405.8,249.3 A15,9.4 0 0 0 420.8,239.9 L420.8,98.6 Z" fill="#b0ada6"/><ellipse cx="405.8" cy="98.6" rx="15" ry="9.4" fill="#e1dfdc" stroke="#3a302c" stroke-width="0.7"/><ellipse cx="405.8" cy="98.6" rx="14.5" ry="8.9" fill="#000" filter="url(#grain)" opacity="0.08"/><path d="M413.0,111.4 L413.0,252.8 A15,9.4 0 0 0 443.0,252.8 L443.0,111.4 Z" fill="#c9c6bf" stroke="#3a302c" stroke-width="0.7"/><path d="M428.0,111.4 L428.0,262.1 A15,9.4 0 0 0 443.0,252.8 L443.0,111.4 Z" fill="#b0ada6"/><ellipse cx="428.0" cy="111.4" rx="15" ry="9.4" fill="#e1dfdc" stroke="#3a302c" stroke-width="0.7"/><ellipse cx="428.0" cy="111.4" rx="14.5" ry="8.9" fill="#000" filter="url(#grain)" opacity="0.08"/><path d="M435.2,124.3 L435.2,265.6 A15,9.4 0 0 0 465.2,265.6 L465.2,124.3 Z" fill="#c9c6bf" stroke="#3a302c" stroke-width="0.7"/><path d="M450.2,124.3 L450.2,275.0 A15,9.4 0 0 0 465.2,265.6 L465.2,124.3 Z" fill="#b0ada6"/><ellipse cx="450.2" cy="124.3" rx="15" ry="9.4" fill="#e1dfdc" stroke="#3a302c" stroke-width="0.7"/><ellipse cx="450.2" cy="124.3" rx="14.5" ry="8.9" fill="#000" filter="url(#grain)" opacity="0.08"/><path d="M457.4,137.1 L457.4,278.4 A15,9.4 0 0 0 487.4,278.4 L487.4,137.1 Z" fill="#c9c6bf" stroke="#3a302c" stroke-width="0.7"/><path d="M472.4,137.1 L472.4,287.8 A15,9.4 0 0 0 487.4,278.4 L487.4,137.1 Z" fill="#b0ada6"/><ellipse cx="472.4" cy="137.1" rx="15" ry="9.4" fill="#e1dfdc" stroke="#3a302c" stroke-width="0.7"/><ellipse cx="472.4" cy="137.1" rx="14.5" ry="8.9" fill="#000" filter="url(#grain)" opacity="0.08"/><path d="M479.6,150.0 L479.6,291.3 A15,9.4 0 0 0 509.6,291.3 L509.6,150.0 Z" fill="#c9c6bf" stroke="#3a302c" stroke-width="0.7"/><path d="M494.6,150.0 L494.6,300.7 A15,9.4 0 0 0 509.6,291.3 L509.6,150.0 Z" fill="#b0ada6"/><ellipse cx="494.6" cy="150.0" rx="15" ry="9.4" fill="#e1dfdc" stroke="#3a302c" stroke-width="0.7"/><ellipse cx="494.6" cy="150.0" rx="14.5" ry="8.9" fill="#000" filter="url(#grain)" opacity="0.08"/><path d="M502.8,163.8 A15,9.4 0 0 1 527.7,156.6 L528.8,320 L505.8,332.8 L502.8,326 Z" fill="#d7d4cd" stroke="#3a302c" stroke-width="0.7"/><path d="M503.3,163.8 A14.5,8.9 0 0 1 527.2,157 L505.6,169.6 Q503.8,167 503.3,163.8 Z" fill="#e1dfdc"/><polygon points="505.6,169.6 527.7,156.6 528.8,320.0 505.8,332.8" fill="#b9b6af" stroke="#3a302c" stroke-width="0.7"/><path d="M252.4,173 Q256,171.5 261,171.5 L261,199 L259.6,197 L258.9,184.8 L250.8,180.5 Q252.5,178.5 252.3,176.5 Z" fill="#80c8ef" stroke="#2c5e7e" stroke-width="0.6"/><path d="M223.4,210.3 C224.2,210.0 226.7,212.0 228.3,212.8 C229.9,213.6 231.3,214.3 233.2,215.2 C235.0,216.1 237.9,217.2 239.2,218.2 C240.6,219.3 241.8,221.3 241.4,221.5 C241.0,221.8 238.6,220.4 236.8,219.7 C235.0,219.0 232.5,218.0 230.7,217.3 C229.0,216.6 227.7,215.9 226.5,215.5 C225.3,215.0 223.9,215.7 223.4,214.8 C222.9,214.0 222.6,210.7 223.4,210.3Z" fill="#80c8ef" stroke="#2c5e7e" stroke-width="0.6"/><path d="M235.6,211.6 C236.8,211.7 240.4,213.5 242.3,213.4 C244.2,213.3 246.0,211.5 247.2,210.9 C248.3,210.4 248.7,209.9 249.2,210.1 C249.8,210.3 249.6,211.5 250.4,212.2 C251.3,212.9 253.3,213.8 254.5,214.4 C255.6,214.9 256.3,215.1 257.5,215.6 C258.7,216.1 260.7,216.1 261.4,217.3 C262.0,218.5 262.4,222.3 261.4,222.7 C260.3,223.2 257.1,220.5 255.1,219.7 C253.0,218.9 250.8,218.4 249.0,217.9 C247.2,217.4 245.9,217.4 244.1,216.7 C242.3,216.0 239.5,214.3 238.0,213.6 C236.6,212.9 235.8,212.8 235.4,212.4 C234.9,212.1 234.4,211.4 235.6,211.6Z" fill="#80c8ef" stroke="#2c5e7e" stroke-width="0.6"/><ellipse cx="254.7" cy="224.3" rx="2.5" ry="1.4" transform="rotate(15 254.7 224.3)" fill="#80c8ef" stroke="#2c5e7e" stroke-width="0.6"/><ellipse cx="237.8" cy="231.1" rx="1.8" ry="1.2" fill="#80c8ef" stroke="#2c5e7e" stroke-width="0.6"/><path d="M241.7,233.5 C242.3,233.1 243.9,232.2 245.3,232.6 C246.8,233.0 248.4,234.6 250.2,235.6 C252.0,236.7 254.4,238.0 256.3,238.7 C258.1,239.4 260.5,238.8 261.4,239.9 C262.2,241.0 262.4,244.8 261.4,245.3 C260.3,245.7 256.9,243.6 255.1,242.8 C253.2,242.0 251.8,241.4 250.2,240.4 C248.6,239.4 246.8,237.7 245.3,236.7 C243.9,235.8 242.0,235.5 241.4,234.9 C240.8,234.4 241.0,233.8 241.7,233.5Z" fill="#80c8ef" stroke="#2c5e7e" stroke-width="0.6"/><path d="M538,176.8 L548.3,172 L549.6,174.6 L542.5,178.8 Q540.5,182 541.5,185.5 L554.8,181.2 L554.8,186.5 L543,190 L536.5,191 Q538.8,187.5 538.3,184 L536.3,180.5 Z" fill="#80c8ef" stroke="#2c5e7e" stroke-width="0.6"/><path d="M528.3,178.3 L534.6,177.2 L533.6,181.8 L528.3,183.4 Z" fill="#80c8ef" stroke="#2c5e7e" stroke-width="0.6"/><ellipse cx="546.6" cy="179.7" rx="2.3" ry="1.2" transform="rotate(-20 546.6 179.7)" fill="#80c8ef" stroke="#2c5e7e" stroke-width="0.5"/><path d="M528.8,187.7 Q530.6,188 530.8,192 L531.1,197.4 Q534.5,197.5 536.5,200 Q538.5,203.5 536.3,207 Q537.2,209 536.4,211 Q535,213.5 533.3,214 Q532.5,217 530,217.4 L528.8,217.5 Z" fill="#c9b0d8" stroke="#4a3a55" stroke-width="0.6"/><line x1="319" y1="229" x2="319" y2="266" stroke="#6ab8e6" stroke-width="1.2"/><path d="M316,265 Q322,263 325,265 Q331,266 330,269 Q323,271 316,268 Z" fill="#80c8ef" stroke="#2c5e7e" stroke-width="0.6"/><path d="M284,285 Q289,283 293,285 Q292,288 286,288 Z" fill="#80c8ef" stroke="#2c5e7e" stroke-width="0.6"/><path d="M367,237.5 Q369,235.8 372,236.2 Q372.5,238 369,238.6 Q367,238.5 367,237.5 Z" fill="#80c8ef" stroke="#2c5e7e" stroke-width="0.6"/><path d="M412.2,226 L413.3,229 L413.3,251 L411,251 L411.2,232 Z" fill="#80c8ef" stroke="#2c5e7e" stroke-width="0.6"/><path d="M400,250.5 Q406,249 411,249.5 L413.5,249 Q415,252 411,253.5 Q404,254.5 400,252.5 Z" fill="#80c8ef" stroke="#2c5e7e" stroke-width="0.6"/><path d="M456.8,212 L457.5,216 L457.5,283 L455,283 L455.2,222 Z" fill="#80c8ef" stroke="#2c5e7e" stroke-width="0.6"/><path d="M438.5,276.5 Q442,274.5 448,276.5 L455,278.5 L457.5,279 Q460,285 454,286.5 Q449,284.5 444,284 Q439,283 438.5,276.5 Z" fill="#80c8ef" stroke="#2c5e7e" stroke-width="0.6"/><path d="M446,287 Q448.5,285.5 451,287 Q449,289.2 446.5,288.5 Z" fill="#80c8ef" stroke="#2c5e7e" stroke-width="0.6"/><path d="M273.6,211.0 C273.7,212.4 273.7,217.0 274.2,219.3 C274.7,221.6 275.5,223.0 276.6,224.8 C277.7,226.6 280.3,229.1 281.0,230.0" fill="none" stroke="#111111" stroke-width="2.0"/><path d="M292.0,240.0 C294.2,242.6 302.0,249.8 305.5,255.3 C309.0,260.8 311.5,267.1 313.0,273.0 C314.5,278.9 314.9,285.0 314.5,291.0 C314.1,297.0 312.5,303.9 310.6,309.0 C308.7,314.1 306.4,317.9 303.0,321.7 C299.6,325.5 296.0,329.1 290.2,332.0 C284.4,334.9 271.7,337.8 268.0,339.0" fill="none" stroke="#111111" stroke-width="2.3" clip-path="url(#cBlock)"/><path d="M460.0,203.1 C458.1,203.3 451.7,203.7 448.8,204.6 C445.9,205.5 443.6,207.8 442.5,208.5" fill="none" stroke="#111111" stroke-width="2.3"/><path d="M428.0,219.5 C426.8,220.9 422.8,225.0 421.0,227.9 C419.2,230.8 417.9,234.0 417.2,237.0 C416.5,240.0 416.7,242.4 416.6,246.0 C416.5,249.6 416.2,254.5 416.6,258.7 C417.0,262.9 417.6,267.4 419.0,271.4 C420.4,275.4 422.8,279.2 425.3,282.5 C427.8,285.8 430.6,288.5 434.0,291.2 C437.4,293.9 442.4,296.8 445.9,298.6 C449.4,300.4 451.4,300.5 455.0,301.8 C458.6,303.1 464.1,304.9 467.7,306.7 C471.3,308.5 473.8,310.4 476.4,312.5 C479.0,314.6 481.3,316.9 483.2,319.3 C485.1,321.7 486.5,324.3 487.6,327.1 C488.7,329.9 489.2,333.0 489.6,336.0 C490.0,339.0 490.2,341.5 490.2,345.2 C490.1,348.9 489.4,355.9 489.3,358.0" fill="none" stroke="#111111" stroke-width="2.3" clip-path="url(#cBlock)"/><g transform="translate(272.6,203.2) rotate(28)"><rect x="-5" y="-3.3" width="10" height="6.6" rx="1.2" fill="#9a9a9a" stroke="#222" stroke-width="0.8"/><rect x="-3.5" y="-2" width="7" height="2.2" fill="#d4d4d4"/><ellipse cx="-5" cy="0" rx="1.3" ry="3.3" fill="#6a6a6a" stroke="#222" stroke-width="0.6"/></g><rect x="271.4" y="208.2" width="3.6" height="3.8" rx="0.8" fill="#9cc0da" stroke="#333" stroke-width="0.5"/><g transform="translate(287,235) rotate(40)"><line x1="1" y1="-1" x2="5" y2="-11" stroke="#444" stroke-width="1.1"/><circle cx="5.2" cy="-11.3" r="1.4" fill="#ddd" stroke="#444" stroke-width="0.5"/><rect x="-9" y="-2.6" width="18" height="5.2" rx="1" fill="#a4b6c8" stroke="#2a2a2a" stroke-width="0.7"/><rect x="-7" y="-1.8" width="14" height="1.6" fill="#d4dee8"/><rect x="-2" y="-4" width="5" height="8" rx="1" fill="#8a9cae" stroke="#2a2a2a" stroke-width="0.6"/></g><rect x="476" y="201.7" width="27" height="3.6" fill="#c9d5e1" stroke="#333" stroke-width="0.7"/><line x1="504" y1="201.8" x2="521.5" y2="201.8" stroke="#444" stroke-width="0.7" stroke-dasharray="0.9,1.2"/><line x1="504" y1="205.2" x2="521.5" y2="205.2" stroke="#333" stroke-width="0.8" stroke-dasharray="0.9,1.2"/><rect x="521.5" y="201.7" width="7.3" height="3.6" rx="1.2" fill="#c9d5e1" stroke="#333" stroke-width="0.7"/><rect x="459.5" y="201.4" width="3.5" height="4" fill="#b4c4d4" stroke="#333" stroke-width="0.5"/><rect x="463" y="199" width="5.5" height="8.5" rx="1.5" fill="#8ea2b6" stroke="#2a2a2a" stroke-width="0.6"/><rect x="468.5" y="199.5" width="4" height="7.5" fill="#b4c4d4" stroke="#2a2a2a" stroke-width="0.6"/><rect x="472.5" y="199" width="4" height="8.5" rx="1.2" fill="#8ea2b6" stroke="#2a2a2a" stroke-width="0.6"/><g transform="translate(435,214.5) rotate(-38)"><line x1="-2" y1="-1" x2="-7" y2="-10" stroke="#444" stroke-width="1.1"/><circle cx="-7.3" cy="-10.4" r="1.4" fill="#ddd" stroke="#444" stroke-width="0.5"/><rect x="-9.5" y="-2.6" width="19" height="5.2" rx="1" fill="#a4b6c8" stroke="#2a2a2a" stroke-width="0.7"/><rect x="-7.5" y="-1.8" width="15" height="1.6" fill="#d4dee8"/><rect x="-3" y="-4" width="5" height="8" rx="1" fill="#8a9cae" stroke="#2a2a2a" stroke-width="0.6"/></g><path d="M201.5,130 C203,160 207,182 221,193 C230,199 245,201 263.4,202.8 C245,199 232,195 226,186 C219,172 216,152 217.6,130 Z" fill="#fff"/><path d="M544.5,127 L557,127 L529.5,194.5 Z" fill="#fff"/><circle cx="209.3" cy="67.2" r="65.9" fill="#fff"/><g clip-path="url(#cL)"><path d="M140,0 L280,0 L280,10 L245,22 L186,50 L184,70 L191,80 L209,81 L221,92 L221,140 L140,140 Z" fill="#a8885b"/><circle cx="201.5" cy="13.6" r="2.0" fill="none" stroke="#5a4222" stroke-width="0.7" stroke-opacity="0.85"/><circle cx="225.4" cy="20.5" r="1.8" fill="none" stroke="#5a4222" stroke-width="0.7" stroke-opacity="0.85"/><circle cx="206.6" cy="25.6" r="1.2" fill="none" stroke="#5a4222" stroke-width="0.7" stroke-opacity="0.85"/><circle cx="189.5" cy="20.5" r="1.5" fill="none" stroke="#5a4222" stroke-width="0.7" stroke-opacity="0.85"/><circle cx="215" cy="30.7" r="1.3" fill="none" stroke="#5a4222" stroke-width="0.7" stroke-opacity="0.85"/><circle cx="170" cy="18" r="1.3" fill="none" stroke="#5a4222" stroke-width="0.7" stroke-opacity="0.85"/><circle cx="152" cy="66.5" r="1.6" fill="none" stroke="#5a4222" stroke-width="0.7" stroke-opacity="0.85"/><circle cx="165.7" cy="73.3" r="1.4" fill="none" stroke="#5a4222" stroke-width="0.7" stroke-opacity="0.85"/><circle cx="160.6" cy="88.6" r="2.0" fill="none" stroke="#5a4222" stroke-width="0.7" stroke-opacity="0.85"/><circle cx="179.3" cy="80.1" r="1.5" fill="none" stroke="#5a4222" stroke-width="0.7" stroke-opacity="0.85"/><circle cx="186.1" cy="98.9" r="2.1" fill="none" stroke="#5a4222" stroke-width="0.7" stroke-opacity="0.85"/><circle cx="172.5" cy="105.7" r="1.5" fill="none" stroke="#5a4222" stroke-width="0.7" stroke-opacity="0.85"/><circle cx="191.3" cy="112.5" r="1.4" fill="none" stroke="#5a4222" stroke-width="0.7" stroke-opacity="0.85"/><circle cx="203.2" cy="105.7" r="1.8" fill="none" stroke="#5a4222" stroke-width="0.7" stroke-opacity="0.85"/><circle cx="201.5" cy="90.4" r="1.4" fill="none" stroke="#5a4222" stroke-width="0.7" stroke-opacity="0.85"/><circle cx="153.8" cy="100.6" r="1.3" fill="none" stroke="#5a4222" stroke-width="0.7" stroke-opacity="0.85"/><circle cx="181" cy="119.3" r="1.8" fill="none" stroke="#5a4222" stroke-width="0.7" stroke-opacity="0.85"/><circle cx="201.5" cy="117.6" r="1.6" fill="none" stroke="#5a4222" stroke-width="0.7" stroke-opacity="0.85"/><circle cx="157" cy="44" r="1.4" fill="none" stroke="#5a4222" stroke-width="0.7" stroke-opacity="0.85"/><circle cx="212" cy="125" r="1.3" fill="none" stroke="#5a4222" stroke-width="0.7" stroke-opacity="0.85"/><circle cx="162" cy="118" r="1.2" fill="none" stroke="#5a4222" stroke-width="0.7" stroke-opacity="0.85"/><path d="M162.7,40.6 C163.1,38.4 164.0,37.4 165.8,36.6 C167.6,35.8 171.3,35.5 173.7,35.8 C176.1,36.1 177.9,38.3 180.0,38.2 C182.1,38.1 183.8,35.4 186.4,35.0 C189.1,34.6 193.5,34.9 195.9,35.8 C198.3,36.7 199.9,38.9 200.6,40.6 C201.3,42.3 201.4,44.3 200.0,46.0 C198.6,47.7 193.7,46.3 192.0,51.0 C190.3,55.7 191.2,70.2 190.0,74.0 C188.8,77.8 188.0,75.1 185.0,74.0 C182.0,72.9 174.9,68.6 172.0,67.5 C169.1,66.4 168.6,68.3 167.4,67.5 C166.2,66.7 165.3,64.5 165.0,62.7 C164.7,60.9 166.1,58.5 165.8,56.4 C165.5,54.3 163.9,52.6 163.4,50.0 C162.9,47.4 162.3,42.8 162.7,40.6Z" fill="#80c8ef" stroke="#2c5e7e" stroke-width="0.6"/><circle cx="180.9" cy="29.8" r="4.7" fill="#80c8ef" stroke="#2c5e7e" stroke-width="0.6"/><path d="M168,69 L190,80 L208.5,82 L220.5,92 L220.5,140" fill="none" stroke="#3a2a2a" stroke-width="6.8999999999999995" stroke-linejoin="miter" stroke-linecap="butt"/><path d="M168,69 L190,80 L208.5,82 L220.5,92 L220.5,140" fill="none" stroke="#c77272" stroke-width="5.6" stroke-linejoin="miter" stroke-linecap="butt"/><path d="M184.4,49.8 L206,49.5 L221.8,50.3 L221.8,73.5 L209,81.5 L191,79.5 L184.4,73.5 Z" fill="#c77272" stroke="#3a2a2a" stroke-width="0.7"/><path d="M254,17.5 L187,50.5 L187,72" fill="none" stroke="#3a2a2a" stroke-width="7.3" stroke-linejoin="miter" stroke-linecap="butt"/><path d="M254,17.5 L187,50.5 L187,72" fill="none" stroke="#c77272" stroke-width="6.0" stroke-linejoin="miter" stroke-linecap="butt"/><path d="M206,52.3 L193,56 L193,65.7 L213.2,59 L213.2,71.1 L194.5,75.6" fill="none" stroke="#3a2a3a" stroke-width="6.0" stroke-linejoin="miter"/><path d="M206,52.3 L193,56 L193,65.7 L213.2,59 L213.2,71.1 L194.5,75.6" fill="none" stroke="#c9b0d8" stroke-width="4.8" stroke-linejoin="miter"/><path d="M196,54.5 l1.2,-0.4 M194.5,60 l0,1.5 M199,64.5 l1.5,-0.3 M210,60.5 l0.4,1.2 M212,67 l0,1.4 M203,73.8 l1.5,-0.4" stroke="#333" stroke-width="0.7"/><rect x="214.5" y="59.5" width="10" height="7.6" fill="#b4b4b4" stroke="#333" stroke-width="0.6"/><path d="M216.5,60 l0,6.6 M219,60 l0,6.6 M221.5,60 l0,6.6" stroke="#8a8a8a" stroke-width="0.4"/><rect x="223.6" y="52.7" width="6" height="21.3" rx="0.8" fill="#c6c6c6" stroke="#333" stroke-width="0.6"/><rect x="224.2" y="55.5" width="4.8" height="3.5" fill="#e6e6e6"/><rect x="224.2" y="67.5" width="4.8" height="3.5" fill="#e0e0e0"/><rect x="229.6" y="51" width="29.8" height="24.7" rx="2.2" fill="url(#gBody)" stroke="#333" stroke-width="0.7"/><path d="M231.5,51.5 l0,23.7 M257.5,51.5 l0,23.7" stroke="#777" stroke-width="0.5"/><rect x="258.5" y="55.2" width="6" height="16.2" rx="0.8" fill="#c6c6c6" stroke="#333" stroke-width="0.6"/><rect x="259.1" y="57.5" width="4.8" height="3" fill="#e6e6e6"/><rect x="259.1" y="66" width="4.8" height="3" fill="#e0e0e0"/><rect x="238.1" y="75.7" width="18.7" height="11.9" fill="url(#gLow)" stroke="#333" stroke-width="0.6"/><rect x="238.1" y="86.7" width="18.7" height="7.7" fill="#d4d4d4" stroke="#333" stroke-width="0.6"/><path d="M244,86.9 l0,7.3 M251,86.9 l0,7.3" stroke="#888" stroke-width="0.5"/><path d="M244,86.7 L250.4,86.7 L250.4,94.8 C251,98.5 252.5,101.5 254.6,104.4 L248.6,109.3 C246,106 244.3,101 244,94.8 Z" fill="#c9b0d8" stroke="#222" stroke-width="0.8"/><path d="M247.5,89 l0.2,1.3 M246.5,95 l0.2,1.5 M248.5,100 l0.4,1.3 M250.5,105 l0.8,1 M248,91.5 l0.1,1" stroke="#333" stroke-width="0.7"/></g><circle cx="570.8" cy="67.1" r="65.7" fill="#fff"/><g clip-path="url(#cR)"><rect x="578" y="0" width="70" height="140" fill="#a8885b"/><circle cx="603.2" cy="20.4" r="1.6" fill="none" stroke="#5a4222" stroke-width="0.7" stroke-opacity="0.85"/><circle cx="610.9" cy="34" r="2.3" fill="none" stroke="#5a4222" stroke-width="0.7" stroke-opacity="0.85"/><circle cx="603.2" cy="47.7" r="2.0" fill="none" stroke="#5a4222" stroke-width="0.7" stroke-opacity="0.85"/><circle cx="609.2" cy="45.1" r="1.2" fill="none" stroke="#5a4222" stroke-width="0.7" stroke-opacity="0.85"/><circle cx="616" cy="52.8" r="1.6" fill="none" stroke="#5a4222" stroke-width="0.7" stroke-opacity="0.85"/><circle cx="614.7" cy="65.8" r="2.5" fill="none" stroke="#5a4222" stroke-width="0.7" stroke-opacity="0.85"/><circle cx="618.6" cy="76" r="1.4" fill="none" stroke="#5a4222" stroke-width="0.7" stroke-opacity="0.85"/><circle cx="610.6" cy="85.6" r="2.4" fill="none" stroke="#5a4222" stroke-width="0.7" stroke-opacity="0.85"/><circle cx="609.2" cy="95.8" r="1.3" fill="none" stroke="#5a4222" stroke-width="0.7" stroke-opacity="0.85"/><circle cx="603.3" cy="99.4" r="2.2" fill="none" stroke="#5a4222" stroke-width="0.7" stroke-opacity="0.85"/><circle cx="601.1" cy="109" r="1.4" fill="none" stroke="#5a4222" stroke-width="0.7" stroke-opacity="0.85"/><circle cx="621" cy="95" r="1.2" fill="none" stroke="#5a4222" stroke-width="0.7" stroke-opacity="0.85"/><circle cx="620" cy="110" r="1.5" fill="none" stroke="#5a4222" stroke-width="0.7" stroke-opacity="0.85"/><path d="M576,35.7 Q586,36 592,31 Q596,28.5 598,31 Q601,34 600,36 Q605,36 606,40 Q604,44 600,45 Q598,47 596,46 Q591,42 582,39 Q578,37.5 576,35.7 Z" fill="#80c8ef" stroke="#2c5e7e" stroke-width="0.6"/><circle cx="605" cy="27.5" r="2.6" fill="#80c8ef" stroke="#2c5e7e" stroke-width="0.6"/><path d="M599,80 L601.5,78.5 L602.5,82 L604.5,83.5 L603,86 L604,88.5 L601,89.5 L601,92 L597,94 L596,85 Z" fill="#80c8ef" stroke="#2c5e7e" stroke-width="0.6"/><path d="M577,97.5 Q588,96 596,91 Q600,94 600,99 Q603,103 600,106 Q601,109 599,111 Q590,104 584,100 Q580,98.5 577,97.5 Z" fill="#c9b0d8" stroke="#4a3a55" stroke-width="0.6"/><circle cx="572" cy="4.9" r="30.8" fill="#e2e0dc" stroke="#333" stroke-width="0.7"/><circle cx="572" cy="4.9" r="30.3" fill="#000" filter="url(#grain)" opacity="0.08"/><circle cx="572" cy="66.6" r="30.8" fill="#e2e0dc" stroke="#333" stroke-width="0.7"/><circle cx="572" cy="66.6" r="30.3" fill="#000" filter="url(#grain)" opacity="0.08"/><circle cx="572" cy="128.6" r="30.8" fill="#e2e0dc" stroke="#333" stroke-width="0.7"/><circle cx="572" cy="128.6" r="30.3" fill="#000" filter="url(#grain)" opacity="0.08"/><path d="M547.5,34.5 Q550,32.5 554.5,33.5 Q553,36.5 548,36.8 Z" fill="#7fc9f0" stroke="#2c5e7e" stroke-width="0.5"/><path d="M552.8,39.5 Q554.5,37.8 556.5,38.3 Q556,40.8 553,41 Z" fill="#7fc9f0" stroke="#2c5e7e" stroke-width="0.5"/><line x1="538" y1="42" x2="577.4" y2="89" stroke="#2a2a2a" stroke-width="3.6"/><line x1="538" y1="42" x2="577.4" y2="89" stroke="#c6d4e2" stroke-width="2.2"/><g transform="translate(577.4,89.3) rotate(50)"><rect x="-2" y="-2" width="5" height="4" rx="0.8" fill="#b8c8d8" stroke="#2a2a2a" stroke-width="0.6"/></g><g transform="translate(536.1,39.1) rotate(49.6)"><rect x="-2.5" y="-3" width="5" height="6" rx="0.8" fill="#b8c8d8" stroke="#2a2a2a" stroke-width="0.6"/></g><g transform="translate(540.3,45) rotate(49.6)"><rect x="-2.5" y="-3.2" width="5" height="6.4" rx="0.8" fill="#b8c8d8" stroke="#2a2a2a" stroke-width="0.6"/></g><g transform="translate(532.5,34.8) rotate(49.6)"><rect x="-3.2" y="-1.6" width="4.5" height="3.2" fill="#b8c8d8" stroke="#2a2a2a" stroke-width="0.5"/></g><line x1="526.3" y1="28" x2="530.8" y2="33.3" stroke="#1a1a1a" stroke-width="1.7"/></g>
</svg></body></html>
